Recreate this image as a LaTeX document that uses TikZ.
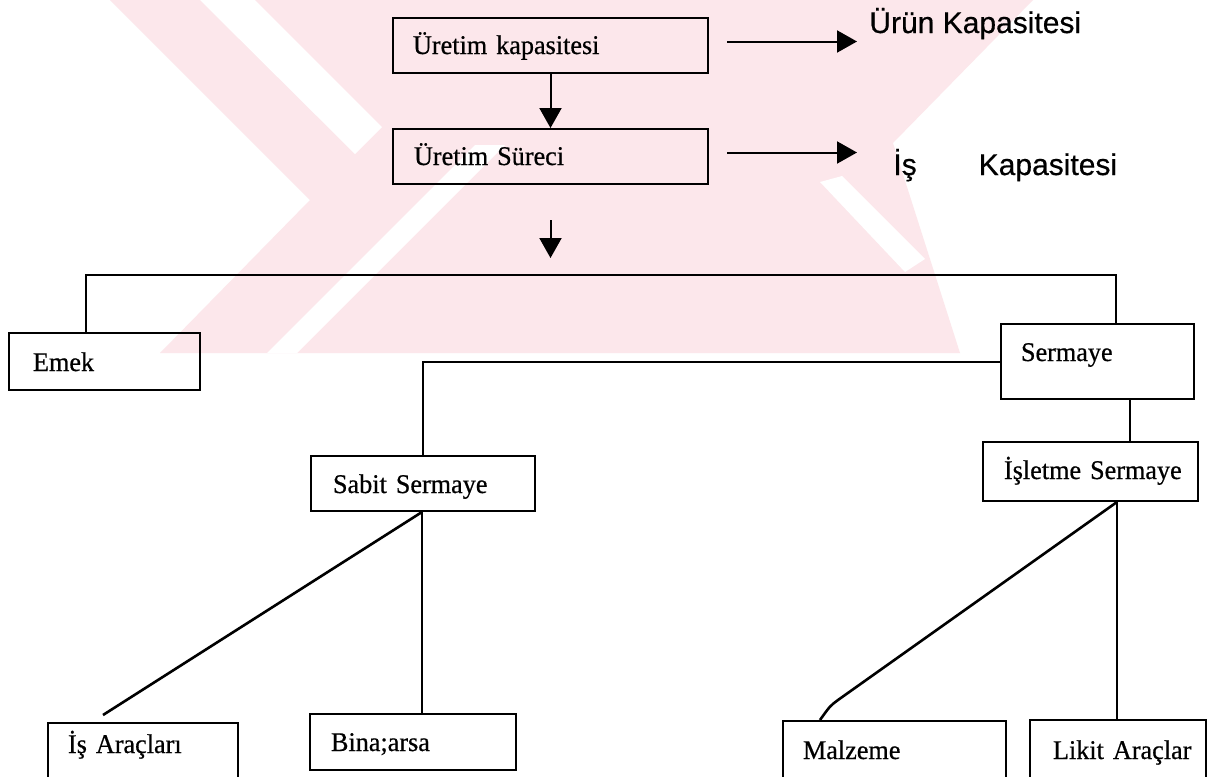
\documentclass[tikz,border=0pt]{standalone}
\usepackage{fontspec}
\setmainfont{Liberation Serif}[FakeStretch=0.97, FakeBold=0.6, WordSpace=0.8]
\newfontfamily\labelsans{Liberation Sans}[FakeBold=0.5]
\usetikzlibrary{arrows.meta,calc}
\definecolor{wmpink}{RGB}{252,231,235}
\tikzset{
  bx/.style n args={4}{draw, line width=1pt, anchor=north west, inner sep=0pt,
    text width=#2, text height=#3, text depth=#4, align=left,
    font=\fontsize{13.5pt}{16pt}\selectfont,
    execute at begin node={\hspace*{#1}}},
  link/.style={line width=1pt},
  slant/.style={line width=1.3pt},
  arr/.style={line width=1pt, -{Triangle[length=10pt,width=11pt]}},
  side/.style={inner sep=0pt, anchor=base west, font=\labelsans\fontsize{15pt}{18pt}\selectfont}
}
\begin{document}
\begin{tikzpicture}[x=0.5pt,y=-0.5pt]
\useasboundingbox (0,0) rectangle (1207,777);
\clip (0,0) rectangle (1207,777);
\fill[white] (0,0) rectangle (1207,777);

% pale background emblem
\fill[wmpink] (110,0) -- (1033,0) -- (893,143) -- (960,353) -- (160,353) -- (310,200) -- cycle;
\fill[white] (200,0) -- (255,0) -- (382,127) -- (355,154) -- cycle;
\fill[white] (267,353) -- (297,353) -- (505,145) -- (475,145) -- cycle;
\fill[white] (820,182) -- (842,176) -- (925,259) -- (905,272) -- cycle;

% boxes
\node[bx={10pt}{157.5pt}{18pt}{9.5pt}]   (uk)    at (392,17)  {Üretim kapasitesi};
\node[bx={10.5pt}{157.5pt}{18pt}{9.5pt}] (us)    at (392,128) {Üretim Süreci};
\node[bx={12pt}{95.5pt}{19pt}{9.5pt}]    (emek)  at (8,332)   {Emek};
\node[bx={10pt}{96.5pt}{18.5pt}{19pt}]   (serm)  at (1000,323){Sermaye};
\node[bx={11pt}{112pt}{18.5pt}{9pt}]     (sabit) at (310,455) {Sabit Sermaye};
\node[bx={10.5pt}{107.5pt}{18.5pt}{11pt}](islet) at (982,441) {İşletme Sermaye};
\node[bx={10pt}{95pt}{15pt}{24pt}]       (isar)  at (47,722)  {İş Araçları};
\node[bx={10.5pt}{103pt}{18.5pt}{9.5pt}] (bina)  at (309,713) {Bina;arsa};
\node[bx={10pt}{111.5pt}{19pt}{21pt}]    (malz)  at (782,720) {Malzeme};
\node[bx={11.5pt}{88pt}{19.5pt}{21pt}]   (likit) at (1029,719){Likit Araçlar};

% side labels
\node[side] (urun) at (869,33)  {Ürün Kapasitesi};
\node[side] (is)   at (893,175) {İş\hspace{31pt}Kapasitesi};

% arrows
\draw[arr] (uk.south) -- (us.north);
\coordinate (d1) at ($(us.south)+(0,35)$);
\coordinate (d2) at ($(us.south)+(0,73)$);
\draw[arr] (d1) -- (d2);
\coordinate (r1) at ($(uk.east)+(18,-4)$);
\coordinate (r1e) at ($(r1)+(130,0)$);
\draw[arr] (r1) -- (r1e);
\coordinate (r2) at ($(us.east)+(18,-4)$);
\coordinate (r2e) at ($(r2)+(130,0)$);
\draw[arr] (r2) -- (r2e);

% tree connectors
\draw[link] ($(emek.north west)+(78,0)$) -- ++(0,-57) -| ($(serm.north west)+(116,0)$);
\draw[link] (serm.west) -| ($(sabit.north west)+(113,0)$);
\draw[link] ($(serm.south west)+(130,0)$) -- ($(islet.north west)+(148,0)$);

\coordinate (sb) at ($(sabit.south west)+(112,0)$);
\coordinate (isend) at ($(isar.north west)+(56,-7)$);
\draw[link] (sb) -- (sb |- bina.north);
\draw[slant] (sb) -- (isend);

\coordinate (ib) at ($(islet.south west)+(135,0)$);
\draw[link] (ib) -- (ib |- likit.north);
\draw[slant] (ib) -- ($(malz.north west)+(56,-20)$)
  .. controls ($(malz.north west)+(48,-14)$) .. ($(malz.north west)+(38,0)$);
\end{tikzpicture}
\end{document}
